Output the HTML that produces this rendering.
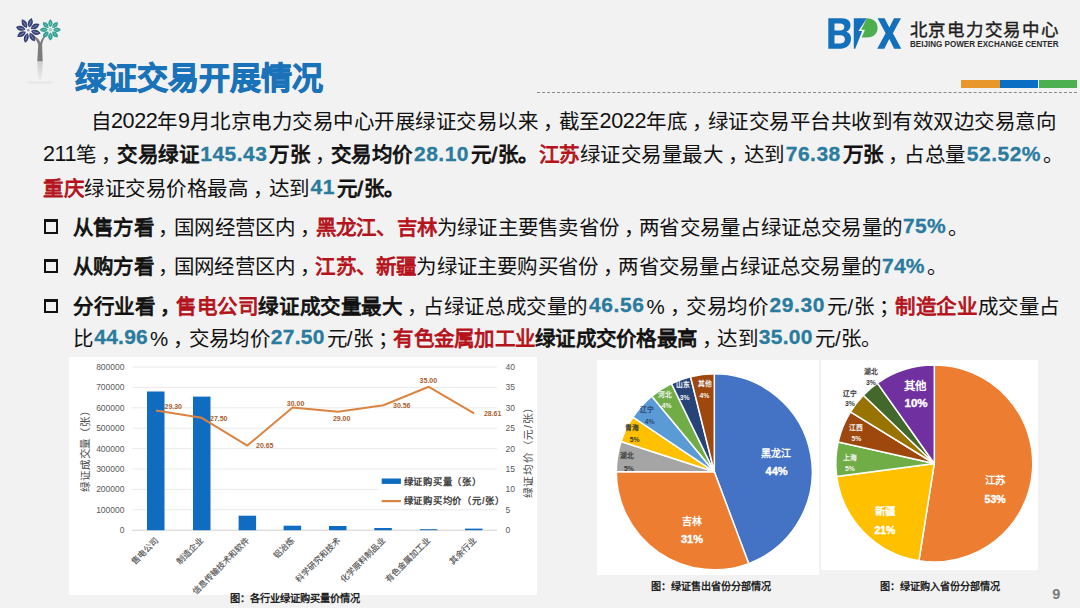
<!DOCTYPE html>
<html lang="zh-CN">
<head>
<meta charset="utf-8">
<style>
*{margin:0;padding:0;box-sizing:border-box;}
html,body{width:1080px;height:608px;overflow:hidden;background:#f2f2f2;}
body{position:relative;font-family:"Liberation Sans",sans-serif;color:#1a1a1a;text-spacing-trim:space-all;}
.abs{position:absolute;}
.ln{position:absolute;white-space:nowrap;font-size:20.5px;line-height:24px;color:#111;letter-spacing:0.5px;}
b{font-weight:normal;-webkit-text-stroke:0.85px #111;}
.r{color:#b5121b;font-weight:normal;-webkit-text-stroke:0.85px #b5121b;}
.bl{color:#2a7b9e;font-weight:bold;font-size:21px;-webkit-text-stroke:0.3px #2a7b9e;vertical-align:1.5px;line-height:0;margin:0 2px 0 1px;}
.c{font-style:normal;position:relative;left:4.5px;}
.d{font-size:21.6px;letter-spacing:-0.4px;vertical-align:1.5px;line-height:0;}
.bul{position:absolute;width:14.3px;height:14.2px;border:2.7px solid #111;border-top-width:3px;}
.cap{position:absolute;white-space:nowrap;font-size:10px;font-weight:bold;color:#222;line-height:12px;}
</style>
</head>
<body>

<!-- tree icon -->
<svg class="abs" style="left:0;top:0" width="80" height="95" viewBox="0 0 80 95">
  <defs>
    <linearGradient id="trk" x1="0" y1="0" x2="0" y2="1">
      <stop offset="0" stop-color="#cdcdcd"/>
      <stop offset="0.5" stop-color="#dcdcdc"/>
      <stop offset="1" stop-color="#eeeeee"/>
    </linearGradient>
  </defs>
  <path d="M32.6 37.2 Q36.8 39.5 38.2 45 L37.3 61.5 L42.7 61.5 L42.1 45.5 Q42.5 40 45.8 36.6 L44.6 35.8 Q41.2 38.8 40.3 42.5 Q38.6 37.8 33.6 35.8 Z" fill="#7c7c7c"/>
  <path d="M37.3 61.5 L42.7 61.5 Q42.3 72 41.6 80 L38.2 80 Q37.6 72 37.3 61.5 Z" fill="url(#trk)"/>
  <ellipse cx="40" cy="82.5" rx="14" ry="1.6" fill="#e6e6e6" opacity="0.7"/>
  <path d="M0 -2.8 Q5 -7.800000000000001 0 -12.8 Q-5 -7.800000000000001 0 -2.8 Z" transform="translate(28.3 30.3) rotate(15)" fill="#323e72"/>
  <path d="M0 -2.8 Q5 -7.800000000000001 0 -12.8 Q-5 -7.800000000000001 0 -2.8 Z" transform="translate(28.3 30.3) rotate(60)" fill="#323e72"/>
  <path d="M0 -2.8 Q5 -7.800000000000001 0 -12.8 Q-5 -7.800000000000001 0 -2.8 Z" transform="translate(28.3 30.3) rotate(105)" fill="#323e72"/>
  <path d="M0 -2.8 Q5 -7.800000000000001 0 -12.8 Q-5 -7.800000000000001 0 -2.8 Z" transform="translate(28.3 30.3) rotate(150)" fill="#323e72"/>
  <path d="M0 -2.8 Q5 -7.800000000000001 0 -12.8 Q-5 -7.800000000000001 0 -2.8 Z" transform="translate(28.3 30.3) rotate(195)" fill="#323e72"/>
  <path d="M0 -2.8 Q5 -7.800000000000001 0 -12.8 Q-5 -7.800000000000001 0 -2.8 Z" transform="translate(28.3 30.3) rotate(240)" fill="#323e72"/>
  <path d="M0 -2.8 Q5 -7.800000000000001 0 -12.8 Q-5 -7.800000000000001 0 -2.8 Z" transform="translate(28.3 30.3) rotate(285)" fill="#323e72"/>
  <path d="M0 -2.8 Q5 -7.800000000000001 0 -12.8 Q-5 -7.800000000000001 0 -2.8 Z" transform="translate(28.3 30.3) rotate(330)" fill="#323e72"/>
  <line x1="0" y1="-5.3" x2="0" y2="-9.8" transform="translate(28.3 30.3) rotate(15)" stroke="#8d95bd" stroke-width="0.8" stroke-linecap="round"/>
  <line x1="0" y1="-5.3" x2="0" y2="-9.8" transform="translate(28.3 30.3) rotate(60)" stroke="#8d95bd" stroke-width="0.8" stroke-linecap="round"/>
  <line x1="0" y1="-5.3" x2="0" y2="-9.8" transform="translate(28.3 30.3) rotate(105)" stroke="#8d95bd" stroke-width="0.8" stroke-linecap="round"/>
  <line x1="0" y1="-5.3" x2="0" y2="-9.8" transform="translate(28.3 30.3) rotate(150)" stroke="#8d95bd" stroke-width="0.8" stroke-linecap="round"/>
  <line x1="0" y1="-5.3" x2="0" y2="-9.8" transform="translate(28.3 30.3) rotate(195)" stroke="#8d95bd" stroke-width="0.8" stroke-linecap="round"/>
  <line x1="0" y1="-5.3" x2="0" y2="-9.8" transform="translate(28.3 30.3) rotate(240)" stroke="#8d95bd" stroke-width="0.8" stroke-linecap="round"/>
  <line x1="0" y1="-5.3" x2="0" y2="-9.8" transform="translate(28.3 30.3) rotate(285)" stroke="#8d95bd" stroke-width="0.8" stroke-linecap="round"/>
  <line x1="0" y1="-5.3" x2="0" y2="-9.8" transform="translate(28.3 30.3) rotate(330)" stroke="#8d95bd" stroke-width="0.8" stroke-linecap="round"/>
  <circle cx="28.3" cy="30.3" r="1.3" fill="#8a93c0"/>
  <path d="M0 -2.6 Q4.5 -6.6 0 -10.6 Q-4.5 -6.6 0 -2.6 Z" transform="translate(50.4 29.8) rotate(0)" fill="#33a090"/>
  <path d="M0 -2.6 Q4.5 -6.6 0 -10.6 Q-4.5 -6.6 0 -2.6 Z" transform="translate(50.4 29.8) rotate(45)" fill="#33a090"/>
  <path d="M0 -2.6 Q4.5 -6.6 0 -10.6 Q-4.5 -6.6 0 -2.6 Z" transform="translate(50.4 29.8) rotate(90)" fill="#33a090"/>
  <path d="M0 -2.6 Q4.5 -6.6 0 -10.6 Q-4.5 -6.6 0 -2.6 Z" transform="translate(50.4 29.8) rotate(135)" fill="#33a090"/>
  <path d="M0 -2.6 Q4.5 -6.6 0 -10.6 Q-4.5 -6.6 0 -2.6 Z" transform="translate(50.4 29.8) rotate(180)" fill="#33a090"/>
  <path d="M0 -2.6 Q4.5 -6.6 0 -10.6 Q-4.5 -6.6 0 -2.6 Z" transform="translate(50.4 29.8) rotate(225)" fill="#33a090"/>
  <path d="M0 -2.6 Q4.5 -6.6 0 -10.6 Q-4.5 -6.6 0 -2.6 Z" transform="translate(50.4 29.8) rotate(270)" fill="#33a090"/>
  <path d="M0 -2.6 Q4.5 -6.6 0 -10.6 Q-4.5 -6.6 0 -2.6 Z" transform="translate(50.4 29.8) rotate(315)" fill="#33a090"/>
  <line x1="0" y1="-5.1" x2="0" y2="-7.6" transform="translate(50.4 29.8) rotate(0)" stroke="#86cfc3" stroke-width="0.8" stroke-linecap="round"/>
  <line x1="0" y1="-5.1" x2="0" y2="-7.6" transform="translate(50.4 29.8) rotate(45)" stroke="#86cfc3" stroke-width="0.8" stroke-linecap="round"/>
  <line x1="0" y1="-5.1" x2="0" y2="-7.6" transform="translate(50.4 29.8) rotate(90)" stroke="#86cfc3" stroke-width="0.8" stroke-linecap="round"/>
  <line x1="0" y1="-5.1" x2="0" y2="-7.6" transform="translate(50.4 29.8) rotate(135)" stroke="#86cfc3" stroke-width="0.8" stroke-linecap="round"/>
  <line x1="0" y1="-5.1" x2="0" y2="-7.6" transform="translate(50.4 29.8) rotate(180)" stroke="#86cfc3" stroke-width="0.8" stroke-linecap="round"/>
  <line x1="0" y1="-5.1" x2="0" y2="-7.6" transform="translate(50.4 29.8) rotate(225)" stroke="#86cfc3" stroke-width="0.8" stroke-linecap="round"/>
  <line x1="0" y1="-5.1" x2="0" y2="-7.6" transform="translate(50.4 29.8) rotate(270)" stroke="#86cfc3" stroke-width="0.8" stroke-linecap="round"/>
  <line x1="0" y1="-5.1" x2="0" y2="-7.6" transform="translate(50.4 29.8) rotate(315)" stroke="#86cfc3" stroke-width="0.8" stroke-linecap="round"/>
  <rect x="48.9" y="28.3" width="3" height="3" fill="#8fd3c8"/>
</svg>

<!-- BPX logo -->
<svg class="abs" style="left:826px;top:16px" width="80" height="36" viewBox="826 16 80 36">
  <!-- B -->
  <path fill="#1470bb" fill-rule="evenodd" d="M828.3 18.3 H841.5 C848 18.3 850.5 21.5 850.5 25.3 C850.5 28.4 848.7 30.7 846.3 31.8 C849.5 32.8 851 35.4 851 38.6 C851 44.6 847 48.7 840.5 48.7 H828.3 Z M834.5 23.5 V30.4 H840 C843 30.4 844.3 29 844.3 26.9 C844.3 24.8 843 23.5 840 23.5 Z M834.5 35.2 V43.4 H840.6 C843.6 43.4 844.9 41.6 844.9 39.3 C844.9 36.9 843.6 35.2 840.6 35.2 Z"/>
  <!-- P stem (blue triangle-ish) -->
  <path fill="#1470bb" d="M853.8 18.3 H866.8 L858.4 31 L862.2 31 L855.2 48.7 H853.8 Z"/>
  <!-- P bowl green -->
  <path fill="#4cae4f" d="M866.8 18.3 C873.5 18.3 877.6 22.2 877.6 27.8 C877.6 33.5 873.6 37.6 867 37.6 H861.6 L865 29.8 L861.2 29.8 Z"/>
  <!-- X -->
  <path fill="#1470bb" d="M877.6 18.3 H884.6 L889.3 27.4 L894 18.3 H901 L892.9 33.2 L901.3 48.7 H894.2 L889.3 39 L884.3 48.7 H877.2 L885.6 33.2 Z"/>
</svg>
<div class="abs" style="left:909.5px;top:18.5px;font-size:17.5px;line-height:22px;letter-spacing:1.75px;color:#1d1d1d;white-space:nowrap;-webkit-text-stroke:0.4px #1d1d1d;">北京电力交易中心</div>
<div class="abs" style="left:910px;top:39px;font-size:8.3px;line-height:10px;font-weight:bold;color:#2a2a2a;white-space:nowrap;transform:scaleX(0.973);transform-origin:0 0;">BEIJING POWER EXCHANGE CENTER</div>

<!-- title -->
<div class="abs" style="left:74.5px;top:58.6px;font-size:31px;line-height:40px;font-weight:bold;color:#1a72b9;white-space:nowrap;-webkit-text-stroke:0.9px #1a72b9;">绿证交易开展情况</div>

<!-- color bars + dashed line -->
<div class="abs" style="left:961px;top:80px;width:39px;height:8px;background:#e8982a;"></div>
<div class="abs" style="left:1000px;top:80px;width:38px;height:8px;background:#0a6fc2;"></div>
<div class="abs" style="left:1039px;top:80px;width:38px;height:8px;background:#4caf50;"></div>
<div class="abs" style="left:537px;top:91.5px;width:540px;height:0;border-top:1px dashed #8a8a8a;"></div>

<!-- paragraph -->
<div class="ln" style="left:90.5px;top:109.8px;">自<span class="d">2022</span>年<span class="d">9</span>月北京电力交易中心开展绿证交易以来<i class="c">，</i>截至<span class="d">2022</span>年底<i class="c">，</i>绿证交易平台共收到有效双边交易意向</div>
<div class="ln" style="left:43px;top:143px;"><span class="d">211</span>笔<i class="c">，</i><b>交易绿证</b><span class="bl">145.43</span><b>万张</b><i class="c">，</i><b>交易均价</b><span class="bl">28.10</span><b>元/张。</b><span class="r">江苏</span>绿证交易量最大<i class="c">，</i>达到<span class="bl">76.38</span><b>万张</b><i class="c">，</i>占总量<span class="bl">52.52%</span>。</div>
<div class="ln" style="left:43px;top:176.6px;"><span class="r">重庆</span>绿证交易价格最高<i class="c">，</i>达到<span class="bl">41</span><b>元/张。</b></div>

<!-- bullets -->
<div class="bul" style="left:44px;top:219.4px;"></div>
<div class="bul" style="left:44px;top:259.2px;"></div>
<div class="bul" style="left:44px;top:299px;"></div>
<div class="ln" style="left:73px;top:215.7px;letter-spacing:0.22px;"><b>从售方看</b><i class="c">，</i>国网经营区内<i class="c">，</i><span class="r">黑龙江、吉林</span>为绿证主要售卖省份<i class="c">，</i>两省交易量占绿证总交易量的<span class="bl">75%</span>。</div>
<div class="ln" style="left:73px;top:255.3px;letter-spacing:0.2px;"><b>从购方看</b><i class="c">，</i>国网经营区内<i class="c">，</i><span class="r">江苏、新疆</span>为绿证主要购买省份<i class="c">，</i>两省交易量占绿证总交易量的<span class="bl">74%</span>。</div>
<div class="ln" style="left:73px;top:294.8px;letter-spacing:0.6px;"><b>分行业看<i class="c">，</i></b><span class="r">售电公司</span><b>绿证成交量最大</b><i class="c">，</i>占绿证总成交量的<span class="bl">46.56</span>%<i class="c">，</i>交易均价<span class="bl">29.30</span>元/张<i class="c">；</i><span class="r">制造企业</span>成交量占</div>
<div class="ln" style="left:73px;top:326.8px;letter-spacing:0.25px;">比<span class="bl">44.96</span>%<i class="c">，</i>交易均价<span class="bl">27.50</span>元/张<i class="c">；</i><span class="r">有色金属加工业</span><b>绿证成交价格最高</b><i class="c">，</i>达到<span class="bl">35.00</span>元/张。</div>

<!-- panels -->
<div class="abs" style="left:69px;top:357px;width:468px;height:238px;background:#fff;"></div>
<div class="abs" style="left:597px;top:360px;width:222px;height:215px;background:#fff;"></div>
<div class="abs" style="left:821px;top:360px;width:217px;height:210px;background:#fff;"></div>

<!-- BAR CHART -->
<svg class="abs" style="left:0;top:0" width="1080" height="608" viewBox="0 0 1080 608">
  <g stroke="#eaeaea" stroke-width="1">
    <line x1="132" x2="497" y1="367" y2="367"/>
    <line x1="132" x2="497" y1="387.4" y2="387.4"/>
    <line x1="132" x2="497" y1="407.8" y2="407.8"/>
    <line x1="132" x2="497" y1="428.2" y2="428.2"/>
    <line x1="132" x2="497" y1="448.6" y2="448.6"/>
    <line x1="132" x2="497" y1="469" y2="469"/>
    <line x1="132" x2="497" y1="489.4" y2="489.4"/>
    <line x1="132" x2="497" y1="509.8" y2="509.8"/>
  </g>
  <line x1="132" x2="497" y1="530.2" y2="530.2" stroke="#d0d0d0" stroke-width="1"/>
  <g fill="#0f6cc0">
    <rect x="147" y="391.5" width="17.5" height="138.7"/>
    <rect x="193" y="396.6" width="17.5" height="133.6"/>
    <rect x="238.6" y="515.7" width="17.5" height="14.5"/>
    <rect x="283.6" y="525.7" width="17.5" height="4.5"/>
    <rect x="329" y="526" width="17.5" height="4.2"/>
    <rect x="374.3" y="528" width="17.5" height="2.2"/>
    <rect x="419.8" y="529.2" width="17.5" height="1"/>
    <rect x="465" y="528.6" width="17.5" height="1.6"/>
  </g>
  <polyline fill="none" stroke="#db8441" stroke-width="2" stroke-linejoin="round" points="156,410.5 201.7,417.8 247.3,445.6 292.6,407.6 338,411.7 383.4,405.3 428.8,386.8 474.1,413.3"/>
  <g font-size="7" font-weight="bold" fill="#a8612f" font-family="Liberation Sans, sans-serif">
    <text x="164.5" y="409">29.30</text>
    <text x="210" y="420.5">27.50</text>
    <text x="256" y="448">20.65</text>
    <text x="286.8" y="405.5">30.00</text>
    <text x="332.9" y="421.4">29.00</text>
    <text x="393" y="407.5">30.56</text>
    <text x="419.6" y="382.8">35.00</text>
    <text x="483.9" y="416.4">28.61</text>
  </g>
  <g font-size="8.5" fill="#595959" text-anchor="end" font-family="Liberation Sans, sans-serif">
    <text x="124.5" y="370">800000</text>
    <text x="124.5" y="390.4">700000</text>
    <text x="124.5" y="410.8">600000</text>
    <text x="124.5" y="431.2">500000</text>
    <text x="124.5" y="451.6">400000</text>
    <text x="124.5" y="472">300000</text>
    <text x="124.5" y="492.4">200000</text>
    <text x="124.5" y="512.8">100000</text>
    <text x="124.5" y="533.2">0</text>
  </g>
  <g font-size="8.5" fill="#595959" font-family="Liberation Sans, sans-serif">
    <text x="505.5" y="370">40</text>
    <text x="505.5" y="390.4">35</text>
    <text x="505.5" y="410.8">30</text>
    <text x="505.5" y="431.2">25</text>
    <text x="505.5" y="451.6">20</text>
    <text x="505.5" y="472">15</text>
    <text x="505.5" y="492.4">10</text>
    <text x="505.5" y="512.8">5</text>
    <text x="505.5" y="533.2">0</text>
  </g>
  <text transform="translate(88.8 448.5) rotate(-90)" text-anchor="middle" font-size="10.5" letter-spacing="0.8" fill="#4a4a4a" font-family="Liberation Sans, sans-serif">绿证成交量（张）</text>
  <text transform="translate(531.6 449.6) rotate(-90)" text-anchor="middle" font-size="10.6" letter-spacing="0.75" fill="#4a4a4a" font-family="Liberation Sans, sans-serif">绿证均价（元/张）</text>
  <g font-size="8.4" fill="#505050" text-anchor="end" font-family="Liberation Sans, sans-serif" stroke="#505050" stroke-width="0.15" letter-spacing="0.45">
    <text transform="translate(158.5 541) rotate(-45)">售电公司</text>
    <text transform="translate(204.2 541) rotate(-45)">制造企业</text>
    <text transform="translate(249.8 541) rotate(-45)">信息传输技术和软件</text>
    <text transform="translate(295.1 541) rotate(-45)">铝冶炼</text>
    <text transform="translate(340.5 541) rotate(-45)">科学研究和技术</text>
    <text transform="translate(385.9 541) rotate(-45)">化学原料制品业</text>
    <text transform="translate(431.3 541) rotate(-45)">有色金属加工业</text>
    <text transform="translate(476.6 541) rotate(-45)">其余行业</text>
  </g>
  <!-- legend -->
  <rect x="378" y="472" width="121" height="36" fill="#fff"/>
  <rect x="381.7" y="478.5" width="19.2" height="5.4" fill="#0f6cc0"/>
  <line x1="381.7" x2="400.9" y1="501.1" y2="501.1" stroke="#db8441" stroke-width="2.2"/>
  <g font-size="9.3" font-weight="bold" fill="#404040" font-family="Liberation Sans, sans-serif" letter-spacing="0.8">
    <text x="403.5" y="484.5">绿证购买量（张）</text>
    <text x="403.5" y="504">绿证购买均价（元/张）</text>
  </g>

  <!-- PIE 1 -->
  <g stroke="#fff" stroke-width="1.5" stroke-linejoin="round" id="pie1">
    <path fill="#4472c4" d="M714.3 471.8 L714.30 373.80 A98 98 0 0 1 748.65 563.58 Z"/>
    <path fill="#ed7d31" d="M714.3 471.8 L748.65 563.58 A98 98 0 0 1 616.30 471.80 Z"/>
    <path fill="#a5a5a5" d="M714.3 471.8 L616.30 471.80 A98 98 0 0 1 621.10 441.52 Z"/>
    <path fill="#ffc000" d="M714.3 471.8 L621.10 441.52 A98 98 0 0 1 632.90 417.23 Z"/>
    <path fill="#5b9bd5" d="M714.3 471.8 L632.90 417.23 A98 98 0 0 1 651.83 396.29 Z"/>
    <path fill="#70ad47" d="M714.3 471.8 L651.83 396.29 A98 98 0 0 1 671.46 383.66 Z"/>
    <path fill="#264478" d="M714.3 471.8 L671.46 383.66 A98 98 0 0 1 690.53 376.73 Z"/>
    <path fill="#9e480e" d="M714.3 471.8 L690.53 376.73 A98 98 0 0 1 714.30 373.80 Z"/>
  </g>
  <g font-family="Liberation Sans, sans-serif" text-anchor="middle" font-weight="bold">
    <g fill="#fff" font-size="10" stroke="#fff" stroke-width="0.4">
      <text x="776.3" y="457" stroke-width="0">黑龙江</text>
      <text x="776.6" y="475.2" font-size="11">44%</text>
      <text x="692.3" y="524.8" stroke-width="0">吉林</text>
      <text x="692" y="542.7" font-size="11">31%</text>
    </g>
    <g font-size="6.8">
      <text x="627" y="458.2" fill="#3a3a3a">湖北</text>
      <text x="629" y="470.5" fill="#3a3a3a">5%</text>
      <text x="632.3" y="429.5" fill="#3a3a3a">青海</text>
      <text x="634.6" y="442.2" fill="#3a3a3a">5%</text>
      <text x="646.9" y="411.9" fill="#2a4a7a">辽宁</text>
      <text x="649.7" y="424.2" fill="#2a4a7a">4%</text>
      <text x="664.8" y="396.8" fill="#f4f4f4">河北</text>
      <text x="666.7" y="408.1" fill="#f4f4f4">4%</text>
      <text x="682.8" y="387.3" fill="#f4f4f4">山东</text>
      <text x="684.7" y="400" fill="#f4f4f4">3%</text>
      <text x="704.5" y="386.4" fill="#f4f4f4">其他</text>
      <text x="704.5" y="397.7" fill="#f4f4f4">4%</text>
    </g>
  </g>
  <!-- PIE 2 -->
  <g stroke="#fff" stroke-width="1.5" stroke-linejoin="round" id="pie2">
    <path fill="#ed7d31" d="M934.3 463.5 L934.30 365.00 A98.5 98.5 0 1 1 918.89 560.79 Z"/>
    <path fill="#ffc000" d="M934.3 463.5 L918.89 560.79 A98.5 98.5 0 0 1 836.66 476.46 Z"/>
    <path fill="#70ad47" d="M934.3 463.5 L836.66 476.46 A98.5 98.5 0 0 1 838.17 442.01 Z"/>
    <path fill="#9e480e" d="M934.3 463.5 L838.17 442.01 A98.5 98.5 0 0 1 850.48 411.77 Z"/>
    <path fill="#997300" d="M934.3 463.5 L850.48 411.77 A98.5 98.5 0 0 1 863.35 395.18 Z"/>
    <path fill="#43682b" d="M934.3 463.5 L863.35 395.18 A98.5 98.5 0 0 1 877.41 383.09 Z"/>
    <path fill="#7030a0" d="M934.3 463.5 L877.41 383.09 A98.5 98.5 0 0 1 934.30 365.00 Z"/>
  </g>
  <g font-family="Liberation Sans, sans-serif" text-anchor="middle" font-weight="bold">
    <g fill="#fff" font-size="10.5" stroke="#fff" stroke-width="0.4">
      <text x="995.1" y="483.7" stroke-width="0">江苏</text>
      <text x="995.1" y="502.7">53%</text>
      <text x="885.2" y="515.3" stroke-width="0">新疆</text>
      <text x="884.9" y="534.3">21%</text>
    </g>
    <g fill="#fff" font-size="11.5" stroke="#fff" stroke-width="0.4">
      <text x="915" y="389.5" stroke-width="0">其他</text>
      <text x="916" y="407.3">10%</text>
    </g>
    <g font-size="6.8">
      <text x="870.8" y="374.3" fill="#3a3a3a">湖北</text>
      <text x="870.8" y="385.1" fill="#3a3a3a">3%</text>
      <text x="850" y="396" fill="#3a3a3a">辽宁</text>
      <text x="850" y="406.3" fill="#3a3a3a">3%</text>
      <text x="856.3" y="430.3" fill="#f4f4f4">江西</text>
      <text x="856.3" y="440.8" fill="#f4f4f4">5%</text>
      <text x="850" y="459.7" fill="#f4f4f4">上海</text>
      <text x="850" y="470.5" fill="#f4f4f4">5%</text>
    </g>
  </g>
</svg>

<div class="cap" style="left:229.5px;top:593.3px;font-size:10.2px;">图：各行业绿证购买量价情况</div>
<div class="cap" style="left:650.5px;top:580.8px;font-size:10.1px;">图：绿证售出省份分部情况</div>
<div class="cap" style="left:880.3px;top:580.8px;font-size:10.1px;">图：绿证购入省份分部情况</div>
<div class="abs" style="left:1052.3px;top:586.3px;font-size:14.5px;line-height:16px;color:#7a7a7a;font-weight:bold;">9</div>

</body>
</html>
